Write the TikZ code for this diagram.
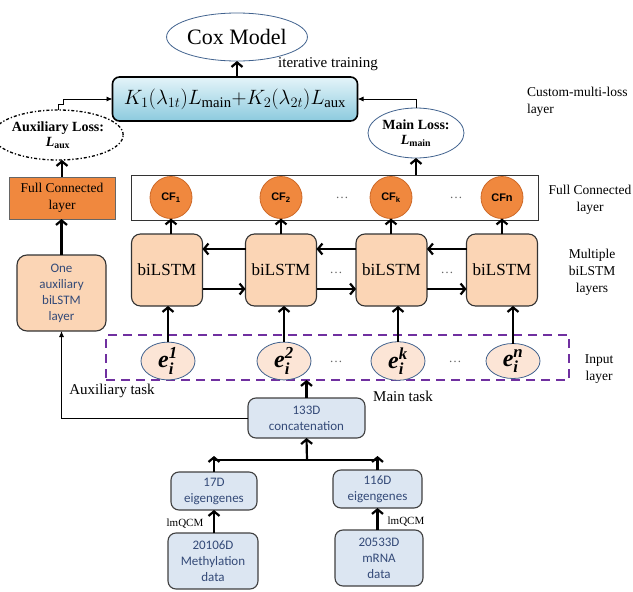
\documentclass[tikz,border=0pt]{standalone}
\usepackage{amsmath}
\usepackage{fontspec}
\setmainfont{Liberation Serif}
\newfontfamily\calibfont{Carlito}
\newfontfamily\arialfont{Liberation Sans}
\usetikzlibrary{shapes.geometric,arrows.meta,calc}
\definecolor{peach}{RGB}{251,213,181}
\definecolor{lightpeach}{RGB}{252,229,214}
\definecolor{fcorange}{RGB}{240,136,62}
\definecolor{cfedge}{RGB}{205,105,40}
\definecolor{paleblue}{RGB}{220,230,242}
\definecolor{textblue}{RGB}{52,74,120}
\definecolor{edgeblue}{RGB}{65,98,142}
\definecolor{dashpurple}{RGB}{112,48,160}
\definecolor{losstop}{RGB}{228,244,249}
\definecolor{lossbot}{RGB}{140,202,222}
\newcommand{\einput}[1]{{\bfseries\itshape e}$_{\text{\bfseries\itshape i}}^{\text{\bfseries\itshape #1}}$}

\begin{document}
\begin{tikzpicture}[x=1pt,y=-1pt,>={Straight Barb[length=4.5pt,width=11pt]}]
            \tikzstyle{every node}=[inner sep=0pt,outer sep=0pt]
            \tikzstyle{bigarrow}=[->,line width=2.2pt]
            \tikzstyle{smallarrow}=[-{Latex[length=6pt,width=5pt]},line width=0.9pt]
            \tikzstyle{lstm}=[rectangle,rounded corners=9pt,draw=black!80,line width=1.1pt,fill=peach,minimum width=71pt,minimum height=72pt,font=\fontsize{17}{19}\selectfont]
            \tikzstyle{cf neuron}=[ellipse,draw=cfedge,line width=0.8pt,fill=fcorange,minimum width=42pt,minimum height=42pt,font=\arialfont\bfseries\fontsize{11}{12}\selectfont]
            \tikzstyle{input neuron}=[ellipse,draw=edgeblue,line width=0.8pt,fill=lightpeach,minimum width=54pt,minimum height=35pt,font=\fontsize{24}{26}\selectfont]
            \tikzstyle{datanode}=[rectangle,rounded corners=8pt,draw=black!75,line width=1.1pt,fill=paleblue,text=textblue,align=center,font=\calibfont\fontsize{13}{16}\selectfont]
            \tikzstyle{annot}=[align=center,font=\fontsize{13.5}{17}\selectfont]
            \tikzstyle{dots}=[text=black!60,font=\fontsize{13}{14}\selectfont]

            \useasboundingbox (0,0) rectangle (633,592);

            % Loss and Cox model
            \node[ellipse,draw=edgeblue,line width=0.8pt,minimum width=108pt,minimum height=48pt,font=\fontsize{22}{24}\selectfont] (cox) at (237,37) {Cox Model};
            \node[rectangle,rounded corners=7pt,draw=black,line width=1.6pt,top color=losstop,bottom color=lossbot,minimum width=245pt,minimum height=44pt,font=\fontsize{21}{24}\selectfont] (loss) at (235,99) {$K_1(\lambda_{1t})L_{\mathrm{main}}{+}K_2(\lambda_{2t})L_{\mathrm{aux}}$};
            \node[font=\fontsize{15}{17}\selectfont] (iter) at (328,64) {iterative training};
            \node[annot,align=left,anchor=west] (lbl-loss) at (527,102) {Custom-multi-loss\\layer};

            \node[ellipse,draw=black,line width=1.3pt,dash dot,minimum width=106pt,minimum height=50pt,align=center,font=\bfseries\fontsize{14}{15}\selectfont] (auxloss) at (58,135) {Auxiliary Loss:\\\textit{L}\textsubscript{aux}};
            \node[ellipse,draw=edgeblue,line width=0.8pt,minimum width=96pt,minimum height=50pt,align=center,font=\bfseries\fontsize{14}{15}\selectfont] (mainloss) at (416,133) {Main Loss:\\\textit{L}\textsubscript{main}};

            % Full connected layers
            \node[rectangle,draw=black!60,line width=0.6pt,fill=fcorange,minimum width=106pt,minimum height=42pt,annot] (fcl) at (62,198) {Full Connected\\layer};
            \node[rectangle,draw=black!80,line width=1pt,minimum width=407pt,minimum height=45pt] (fcr) at (334.5,197.5) {};
            \foreach \name / \x / \lab in {1/171/CF\textsubscript{1},2/281/CF\textsubscript{2},3/391/CF\textsubscript{k},4/502/CFn}
                \node[cf neuron] (cf-\name) at (\x,197.5) {\lab};
            \node[dots] (dot-f1) at (342,198) {\ldots};
            \node[dots] (dot-f2) at (456,198) {\ldots};
            \node[annot] (lbl-fc) at (590,200) {Full Connected\\layer};

            % biLSTM layers
            \foreach \name / \x in {1/167,2/281,3/391.5,4/502}
                \node[lstm] (lstm-\name) at (\x,270) {biLSTM};
            \foreach \a / \b in {1/2,2/3,3/4}
            {
                \draw[bigarrow] ([yshift=21pt]lstm-\b.west) -- ([yshift=21pt]lstm-\a.east);
                \draw[bigarrow] ([yshift=-19pt]lstm-\a.east) -- ([yshift=-19pt]lstm-\b.west);
            }
            \node[dots] (dot-l1) at (336,273) {\ldots};
            \node[dots] (dot-l2) at (447,273) {\ldots};
            \node[annot] (lbl-lstm) at (592,272) {Multiple\\biLSTM\\layers};

            \node[rectangle,rounded corners=10pt,draw=black!80,line width=1.1pt,fill=peach,minimum width=89pt,minimum height=76pt,align=center,text=textblue,font=\calibfont\fontsize{13}{16}\selectfont] (auxlstm) at (61.5,293) {One\\auxiliary\\biLSTM\\layer};

            % Input layer
            \node[rectangle,draw=dashpurple,line width=2pt,dash pattern=on 9pt off 6pt,minimum width=463pt,minimum height=45pt] (inrect) at (337.5,357.5) {};
            \foreach \name / \x / \sup in {1/168/1,2/284/2,3/398/k,4/513/n}
                \node[input neuron] (e-\name) at (\x,361) {\einput{\sup}};
            \node[dots] (dot-i1) at (336,362) {\ldots};
            \node[dots] (dot-i2) at (455,362) {\ldots};
            \node[annot] (lbl-in) at (599,369) {Input\\layer};

            \node[font=\fontsize{15}{17}\selectfont] (auxtask) at (112,391) {Auxiliary task};
            \node[font=\fontsize{15}{17}\selectfont] (maintask) at (403,396) {Main task};

            % Data
            \node[datanode,minimum width=117pt,minimum height=40pt] (concat) at (306.5,418) {133D\\concatenation};
            \node[datanode,minimum width=86pt,minimum height=38pt] (eig-1) at (214,491) {17D\\eigengenes};
            \node[datanode,minimum width=89pt,minimum height=38pt] (eig-2) at (377.5,489) {116D\\eigengenes};
            \node[datanode,minimum width=90pt,minimum height=56pt] (meth) at (213,561) {20106D\\Methylation\\data};
            \node[datanode,minimum width=88pt,minimum height=56pt] (mrna) at (379,558) {20533D\\mRNA\\data};
            \node[font=\fontsize{11}{12}\selectfont] (qcm-1) at (185,524) {lmQCM};
            \node[font=\fontsize{11}{12}\selectfont] (qcm-2) at (406,522) {lmQCM};
            \coordinate (join) at (307,460);
            \coordinate (auxjog) at (63,104);

            % Connections
            \draw[bigarrow] (loss.north -| cox.south) -- (cox.south);
            \draw[smallarrow] (auxloss.north) |- (auxjog) |- (loss.west);
            \draw[smallarrow] (mainloss.north) |- (loss.east);
            \draw[bigarrow] (fcl.north) -- (fcl.north |- auxloss.south);
            \draw[bigarrow] (auxlstm.north) -- (auxlstm.north |- fcl.south);
            \draw[bigarrow] (mainloss.south |- fcr.north) -- (mainloss.south);
            \foreach \name in {1,...,4}
            {
                \draw[bigarrow] (cf-\name.south |- lstm-\name.north) -- (cf-\name.south);
                \draw[bigarrow] (e-\name.north) -- (e-\name.north |- lstm-\name.south);
            }
            \draw[smallarrow] (concat.west) -| (auxlstm.south);
            \draw[bigarrow] (concat.north) -- (concat.north |- inrect.south);
            \draw[line width=2.2pt] (eig-1.north |- join) -- (eig-2.north |- join);
            \draw[bigarrow] (join) -- (concat.south);
            \draw[bigarrow] (eig-1.north) -- ([yshift=4pt]eig-1.north |- join);
            \draw[bigarrow] (eig-2.north) -- ([yshift=4pt]eig-2.north |- join);
            \draw[bigarrow] (meth.north -| eig-1.south) -- (eig-1.south);
            \draw[bigarrow] (mrna.north -| eig-2.south) -- (eig-2.south);
\end{tikzpicture}
\end{document}
